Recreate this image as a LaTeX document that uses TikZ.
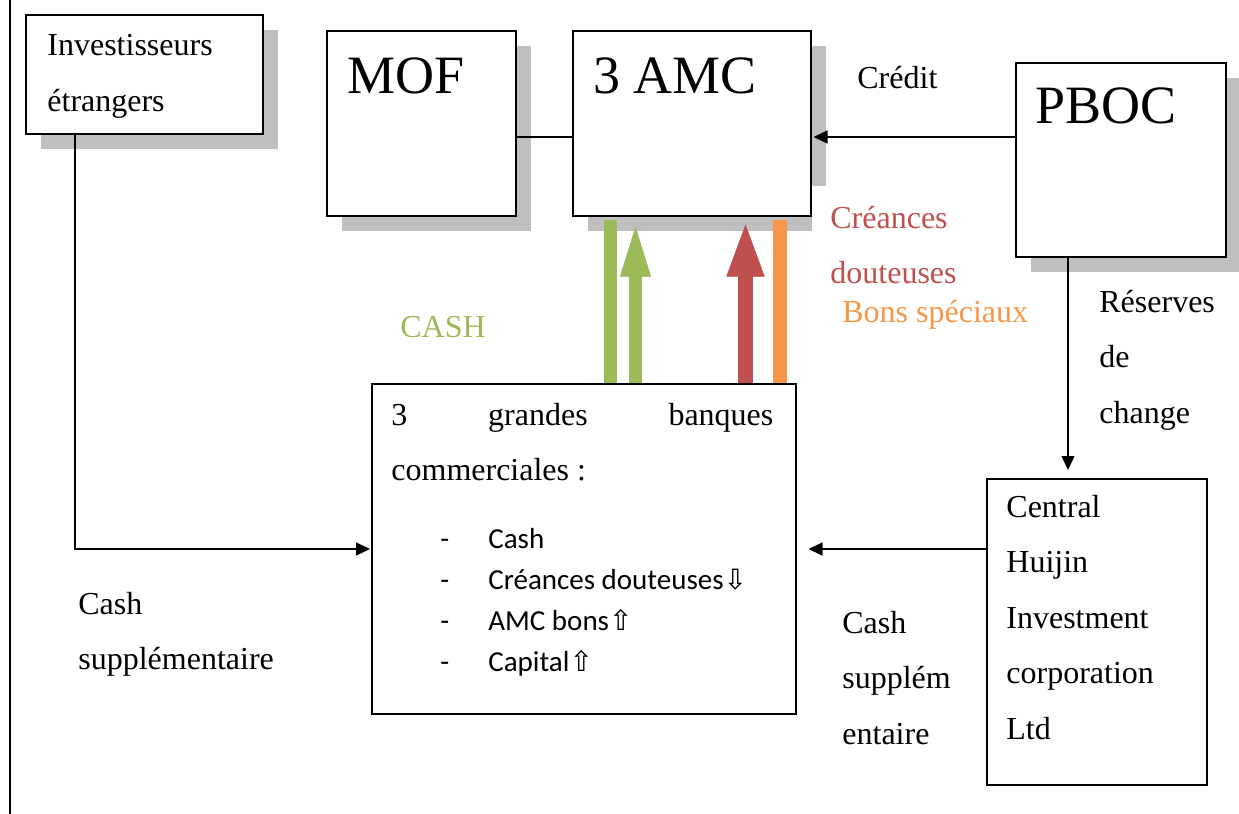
\documentclass[tikz,border=0pt]{standalone}
\usepackage{fontspec}
\setmainfont{Liberation Serif}
\newfontfamily\calibri{Carlito}
\newfontfamily\symb{DejaVu Sans}
\usetikzlibrary{arrows.meta,shadows}

\definecolor{vert}{HTML}{9BBB59}
\definecolor{rouge}{HTML}{C0504D}
\definecolor{orangeb}{HTML}{F79646}

\tikzset{
  boite/.style={draw, line width=0.75pt, fill=white, inner sep=0pt, anchor=north west},
  ombre/.style={drop shadow={shadow xshift=7.5pt, shadow yshift=-7.5pt, fill=black!25, opacity=1}},
  texte/.style={anchor=base west, inner sep=0pt, align=left, font=\fontsize{16}{27.75}\selectfont},
  grand/.style={anchor=base west, inner sep=0pt, font=\fontsize{27}{30}\selectfont},
  fleche/.style={line width=0.75pt, -{Triangle[length=7pt,width=6.5pt]}},
  barre/.style={line width=#1},
  bloc/.style 2 args={line width=#1, -{Triangle[length=28.5pt,width=#2]}}
}
\newcommand{\fbas}{{\symb\fontsize{14}{14}\selectfont ⇩}}
\newcommand{\fhaut}{{\symb\fontsize{14}{14}\selectfont ⇧}}

\begin{document}
\begin{tikzpicture}[x=0.5pt,y=-0.5pt]
  \useasboundingbox (0,0) rectangle (1239,814);

  % bord du tableau
  \draw[line width=1pt] (10,0) -- (10,814);

  % boites
  \node[boite, ombre, minimum width=118.5pt, minimum height=59.5pt] (inv) at (25,14) {};
  \node[boite, ombre, minimum width=94.5pt, minimum height=92.5pt] (mof) at (326,30) {};
  \node[boite, ombre, minimum width=119pt, minimum height=92.5pt] (amc) at (572,30) {};
  \node[boite, ombre, minimum width=105pt, minimum height=97pt] (pboc) at (1015,62) {};
  \node[boite, minimum width=212pt, minimum height=165pt] (banks) at (371,383) {};
  \node[boite, minimum width=110pt, minimum height=153pt] (central) at (986,478) {};

  % creances douteuses (fond blanc sur l'ombre)
  \node[texte, fill=white, inner xsep=9pt, inner ysep=10pt, text=rouge] (tcreances) at (812,283.5)
    {Cr\'eances\\douteuses};

  % fleches de couleur
  \coordinate (g1) at (610.5,0);
  \coordinate (g2) at (635.5,0);
  \coordinate (r1) at (745.5,0);
  \coordinate (o1) at (780,0);
  \begin{scope}[xshift=3, yshift=-3, black!30]
    \draw[barre=6.5pt, shorten <=1.5pt] (g1 |- banks.north) -- ([yshift=-1.5pt]g1 |- amc.south);
    \draw[bloc={6.5pt}{13pt}, shorten <=1.5pt] (g2 |- banks.north) -- ([yshift=-1.5pt]g2 |- amc.south);
    \draw[bloc={7.5pt}{16.5pt}, shorten <=1.5pt] (r1 |- banks.north) -- ([yshift=-1.5pt]r1 |- amc.south);
    \draw[barre=7pt, shorten <=1.5pt] (o1 |- banks.north) -- ([yshift=-1.5pt]o1 |- amc.south);
  \end{scope}
  \draw[barre=6.5pt, vert] (g1 |- banks.north) -- ([yshift=-1.5pt]g1 |- amc.south);
  \draw[bloc={6.5pt}{13pt}, vert] (g2 |- banks.north) -- ([yshift=-1.5pt]g2 |- amc.south);
  \draw[bloc={7.5pt}{16.5pt}, rouge] (r1 |- banks.north) -- ([yshift=-1.5pt]r1 |- amc.south);
  \draw[barre=7pt, orangeb] (o1 |- banks.north) -- ([yshift=-1.5pt]o1 |- amc.south);

  % liaisons
  \draw[line width=0.75pt] (mof.east |- 0,137) -- (amc.west |- 0,137);
  \draw[fleche] (pboc.west |- 0,137) -- ([xshift=1pt]amc.east |- 0,137);
  \draw[fleche] (inv.south -| 75,0) |- ([xshift=-0.5pt]banks.west |- 0,549);
  \draw[fleche] (pboc.south -| 1068,0) -- ([yshift=4pt]central.north -| 1068,0);
  \draw[fleche] (central.west |- 0,549) -- ([xshift=6pt]banks.east |- 0,549);

  % textes (ancre = ligne de base de la derniere ligne)
  \node[texte] (tinv) at (47,111) {Investisseurs\\\'etrangers};
  \node[grand] (tmof) at (347,93) {MOF};
  \node[grand] (tamc) at (593,93) {3 AMC};
  \node[grand] (tpboc) at (1035,123) {PBOC};
  \node[texte] (tcredit) at (857,88) {Cr\'edit};
  \node[texte, text=orangeb] (tbons) at (842,322) {Bons sp\'eciaux};
  \node[texte, text=vert] (tcash) at (400,337) {CASH};
  \node[texte] (treserves) at (1099,423) {R\'eserves\\de\\change};
  \node[texte] (tbanques) at (391,480.5) {\makebox[191pt][s]{3 grandes banques}\\commerciales :};
  \node[anchor=base west, inner sep=0pt, align=left, font=\calibri\fontsize{14.5}{20.5}\selectfont] (tliste) at (440,671)
    {\makebox[24pt][l]{-}Cash\\
     \makebox[24pt][l]{-}Cr\'eances douteuses\fbas\\
     \makebox[24pt][l]{-}AMC bons\fhaut\\
     \makebox[24pt][l]{-}Capital\fhaut};
  \node[texte] (tcentral) at (1006,739) {Central\\Huijin\\Investment\\corporation\\Ltd};
  \node[texte] (tsupg) at (78,669.5) {Cash\\suppl\'ementaire};
  \node[texte] (tsupd) at (842,744) {Cash\\suppl\'em\\entaire};
\end{tikzpicture}
\end{document}
